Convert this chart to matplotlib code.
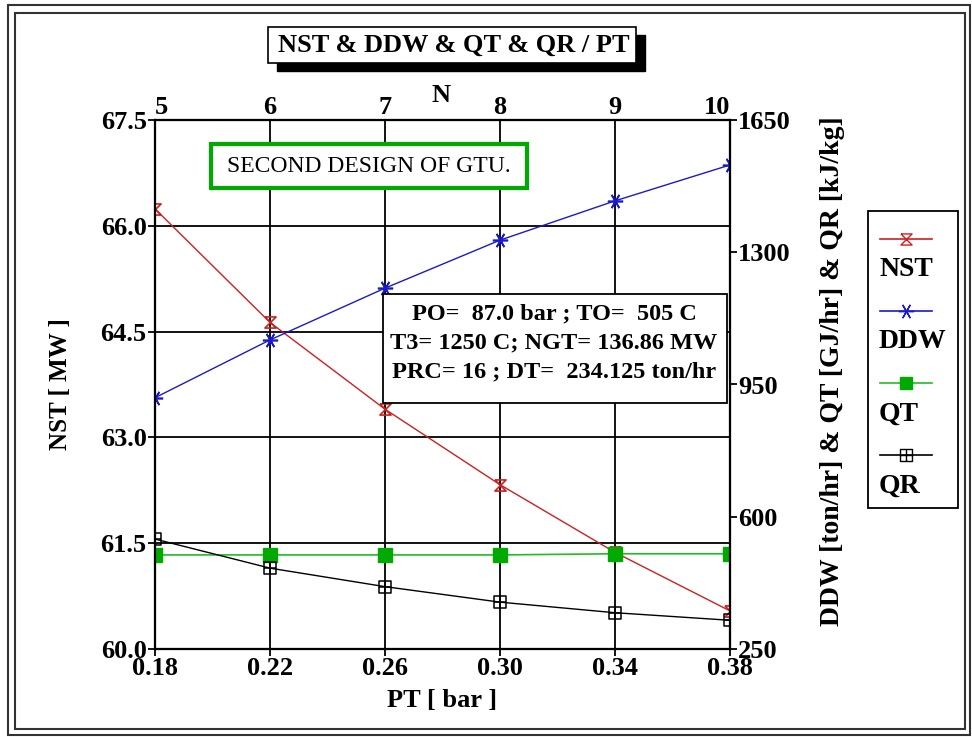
import matplotlib
matplotlib.use("Agg")
import matplotlib.pyplot as plt
import numpy as np
from matplotlib.path import Path
from matplotlib.lines import Line2D
from matplotlib.patches import Rectangle

plt.rcParams['font.family'] = ['Liberation Serif', 'DejaVu Serif']
plt.rcParams['font.weight'] = 'bold'
plt.rcParams['axes.labelweight'] = 'bold'

# data
pt = [0.18, 0.22, 0.26, 0.30, 0.34, 0.38]
n_top = [5, 6, 7, 8, 9, 10]
nst = [66.24, 64.63, 63.40, 62.33, 61.37, 60.54]
ddw = [915, 1068, 1205, 1332, 1436, 1531]
qt = [499, 499, 499, 499, 502, 502]
qr = [541, 464, 415, 374, 346, 326]

left_ticks = [60.0, 61.5, 63.0, 64.5, 66.0, 67.5]
right_ticks = [250, 600, 950, 1300, 1650]

W, H = 972.0, 737.0
def fx(px):
    return px / W
def fy(py):
    return 1 - py / H

# custom markers
hourglass = Path([(-1, 1), (1, 1), (0, 0), (1, -1), (-1, -1), (0, 0), (-1, 1)])
boxcross = Path([(-1, -1), (1, -1), (1, 1), (-1, 1), (-1, -1), (0, -1), (0, 1), (-1, 0), (1, 0)],
                [Path.MOVETO, Path.LINETO, Path.LINETO, Path.LINETO, Path.CLOSEPOLY,
                 Path.MOVETO, Path.LINETO, Path.MOVETO, Path.LINETO])

fig = plt.figure(figsize=(9.72, 7.37), dpi=100)
ax = fig.add_axes([fx(155), fy(649), fx(730) - fx(155), fy(120) - fy(649)])
ax2 = ax.twinx()
ax3 = ax.twiny()

ax.set_xlim(0.18, 0.38)
ax.set_ylim(60.0, 67.5)
ax.set_xticks(pt)
ax.set_xticklabels(["%.2f" % v for v in pt])
ax.set_yticks(left_ticks)
ax.set_yticklabels(["%.1f" % v for v in left_ticks])
ax.grid(True, color='black', linewidth=1.3)
ax.tick_params(labelsize=19, width=1.3, length=5, pad=1)
ax.set_xlabel("PT [ bar ]", fontsize=19, labelpad=6)
ax.set_ylabel("NST [ MW ]", fontsize=18)
ax.yaxis.set_label_coords(-0.144, 0.5)

ax2.set_ylim(250, 1650)
ax2.set_yticks(right_ticks)
ax2.tick_params(labelsize=19, width=1.3, length=5, pad=1)
ax2.set_ylabel("DDW [ton/hr] & QT [GJ/hr] & QR [kJ/kg]", fontsize=20)
ax2.yaxis.set_label_coords(1.157, 0.526)

ax3.set_xlim(5, 10)
ax3.set_xticks(n_top)
ax3.tick_params(labelsize=19, length=0, pad=1)
labs = ax3.get_xticklabels()
labs[0].set_horizontalalignment('left')
labs[-1].set_horizontalalignment('right')
fig.text(fx(441), fy(95), "N", fontsize=19, ha='center', va='center')

for a in (ax, ax2, ax3):
    for s in a.spines.values():
        s.set_linewidth(1.5)

ax.plot(pt, nst, color='#cc2020', linewidth=1, marker=hourglass, markersize=8,
        markerfacecolor='none', markeredgecolor='#cc2020', markeredgewidth=1.2)
ax2.plot(pt, ddw, color='#1a1acc', linewidth=1, marker=(6, 2, 90), markersize=11,
         markeredgewidth=1.2)
ax2.plot(pt, qt, color='#22bb22', linewidth=1.2, marker='s', markersize=9.5,
         markerfacecolor='#00aa00', markeredgecolor='#00aa00')
ax2.plot(pt, qr, color='black', linewidth=1, marker=boxcross, markersize=9,
         markerfacecolor='none', markeredgewidth=1.1)

# title box with shadow
fig.patches.append(Rectangle((fx(277), fy(71)), fx(368), 36 / H, transform=fig.transFigure,
                             facecolor='black', edgecolor='black'))
fig.patches.append(Rectangle((fx(268), fy(63)), fx(368), 36 / H, transform=fig.transFigure,
                             facecolor='white', edgecolor='black', linewidth=1.2))
fig.text(fx(454), fy(45), "NST & DDW & QT & QR / PT", fontsize=19, ha='center', va='center')

# design label
fig.patches.append(Rectangle((fx(211), fy(188)), fx(316), 44 / H, transform=fig.transFigure,
                             facecolor='white', edgecolor='#00aa00', linewidth=3, zorder=5))
fig.text(fx(369), fy(166), "SECOND DESIGN OF GTU.", fontsize=17, fontweight='normal',
         ha='center', va='center', zorder=6)

# info box
fig.patches.append(Rectangle((fx(383), fy(403)), fx(344), 109 / H, transform=fig.transFigure,
                             facecolor='white', edgecolor='black', linewidth=1.3, zorder=5))
info = ["PO=  87.0 bar ; TO=  505 C", "T3= 1250 C; NGT= 136.86 MW", "PRC= 16 ; DT=  234.125 ton/hr"]
for i, line in enumerate(info):
    fig.text(fx(554), fy(314 + i * 29), line, fontsize=17.5, ha='center', va='center', zorder=6)

# legend box drawn by hand
fig.patches.append(Rectangle((fx(868), fy(508)), fx(90), 297 / H, transform=fig.transFigure,
                             facecolor='white', edgecolor='black', linewidth=1.3))
leg = [("NST", '#cc2020', hourglass, 'none', 8),
       ("DDW", '#1a1acc', (6, 2, 90), None, 11),
       ("QT", '#22bb22', 's', '#00aa00', 9),
       ("QR", 'black', boxcross, 'none', 9)]
for i, (name, col, mk, fc, ms) in enumerate(leg):
    yl = 239 + i * 72
    kw = dict(color=col, marker=mk, markersize=ms, linewidth=1.2, transform=fig.transFigure,
              markevery=[1])
    if fc is not None:
        kw['markerfacecolor'] = fc
        kw['markeredgecolor'] = col if fc == 'none' else fc
    fig.lines.append(Line2D([fx(880), fx(906), fx(932)], [fy(yl)] * 3, **kw))
    fig.text(fx(879), fy(yl + 31), name, fontsize=20, ha='left', va='center')

# outer frames
fig.patches.append(Rectangle((fx(8), fy(735)), fx(962), 730 / H, transform=fig.transFigure,
                             facecolor='none', edgecolor='#333333', linewidth=1.5))
fig.patches.append(Rectangle((fx(15), fy(729)), fx(950), 716 / H, transform=fig.transFigure,
                             facecolor='none', edgecolor='#333333', linewidth=1.5))

fig.savefig("out.png", dpi=100)
